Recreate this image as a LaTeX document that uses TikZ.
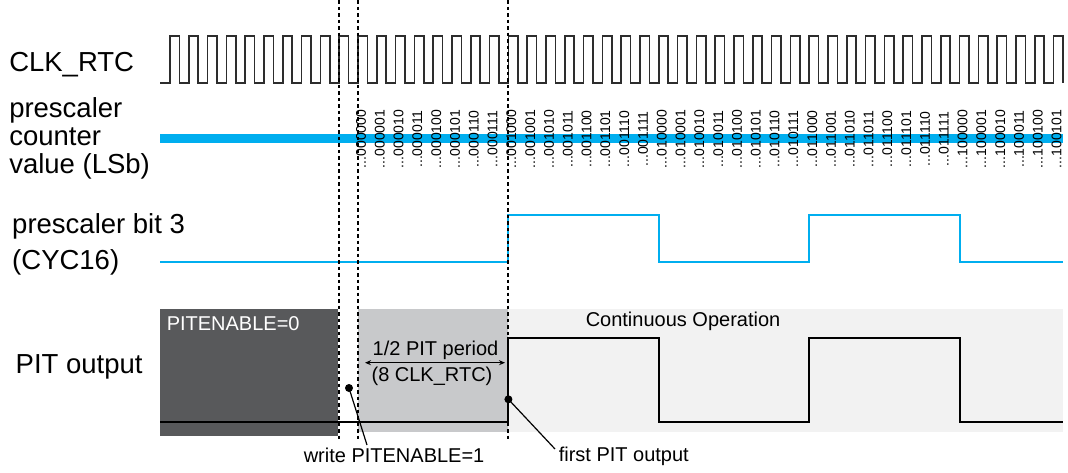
\documentclass[tikz,border=0pt]{standalone}
\usepackage{fontspec}
\setmainfont{Liberation Sans}
\usetikzlibrary{arrows.meta}
\definecolor{sig}{RGB}{0,174,239}
\definecolor{offfill}{RGB}{88,89,91}
\definecolor{waitfill}{RGB}{200,201,203}
\definecolor{runfill}{RGB}{242,242,242}
\definecolor{clkink}{RGB}{45,45,45}
\tikzset{
  every picture/.style={x=1pt, y=-1pt, line width=1.5pt},
  lbl/.style={font=\fontsize{27.5}{28}\selectfont, inner sep=0pt, anchor=base west, align=left},
  small/.style={font=\fontsize{20}{22}\selectfont, inner sep=0pt, anchor=base west},
  cnt/.style={font=\fontsize{14}{14}\selectfont, inner sep=0pt, rotate=90},
  clk/.style={draw=clkink, line width=1.5pt},
  wave/.style={draw=sig, line width=2pt},
  pit/.style={draw=black, line width=2pt},
  guide/.style={line width=2pt, dash pattern=on 3.5pt off 3pt},
  lead/.style={line width=1.2pt},
  dot/.style={circle, fill=black, inner sep=0pt, minimum size=8pt},
  span/.style={{Stealth[length=6pt,width=5pt]}-{Stealth[length=6pt,width=5pt]}, line width=1pt},
}

\begin{document}
\begin{tikzpicture}
  \useasboundingbox (0,0) rectangle (1068,472);

  % phases of the PIT
  \fill[offfill] (160,309) rectangle (338,436);
  \fill[waitfill] (357.8,309) rectangle (508.4,432);
  \fill[runfill] (508.4,309) rectangle (1063,432);

  % left column
  \node[lbl] (clkname) at (8.5,71.7) {CLK\_RTC};
  \node[lbl] (cntname) at (8.5,173.3) {prescaler\\counter\\value (LSb)};
  \node[lbl, font=\fontsize{27.5}{36}\selectfont] (bitname) at (11.5,269.3) {prescaler bit 3\\(CYC16)};
  \node[lbl] (pitname) at (15,373.3) {PIT output};

  % waveforms
  \draw[clk] (160,83) -- (170,83)
    foreach \k in {0,...,46} { -- ++(0,-47) -- ++(9.4,0) -- ++(0,47) -- ++(9.4,0) }
    -- ++(0,-47) -- ++(9.4,0) -- ++(0,47);
  \fill[sig] (160,134) rectangle (1063,143);
  \foreach \b [count=\k from 10] in {000000,000001,000010,000011,000100,000101,000110,000111,
      001000,001001,001010,001011,001100,001101,001110,001111,010000,010001,010010,010011,
      010100,010101,010110,010111,011000,011001,011010,011011,011100,011101,011110,011111,
      100000,100001,100010,100011,100100,100101}
    \node[cnt] (cnt\k) at (173+18.8*\k,139) {...\b};
  \draw[wave] (160,262) -- (508.4,262) -- (508.4,215) -- (658.8,215) -- (658.8,262)
    -- (809.2,262) -- (809.2,215) -- (959.6,215) -- (959.6,262) -- (1063,262);
  \draw[pit] (160,422) -- (508.4,422) -- (508.4,338) -- (658.8,338) -- (658.8,422)
    -- (809.2,422) -- (809.2,338) -- (959.6,338) -- (959.6,422) -- (1063,422);

  % time marks
  \foreach \x in {339.2,357.8,508.4}
    \draw[guide] (\x,0) -- (\x,440);

  \node[small, text=white] (offtxt) at (166,330) {PITENABLE=0};
  \node[small] (runtxt) at (585,326) {Continuous Operation};
  \node[small, anchor=base] (halftxt) at (435.5,355) {1/2 PIT period};
  \node[small, anchor=base] (eighttxt) at (432,381.6) {(8 CLK\_RTC)};
  \coordinate (halfL) at (365,362.7);
  \coordinate (halfR) at (505,362.7);
  \draw[span] (halfL) -- (halfR);

  % events
  \node[dot] (wdot) at (349,388) {};
  \node[small] (wtxt) at (303,462.5) {write PITENABLE=1};
  \coordinate (wend) at (367,445);
  \draw[lead] (wdot.center) -- (wend);
  \node[dot] (fdot) at (508.4,399.3) {};
  \node[small] (ftxt) at (558,461.7) {first PIT output};
  \coordinate (fend) at (555,449);
  \draw[lead] (fdot.center) -- (fend);
\end{tikzpicture}
\end{document}
